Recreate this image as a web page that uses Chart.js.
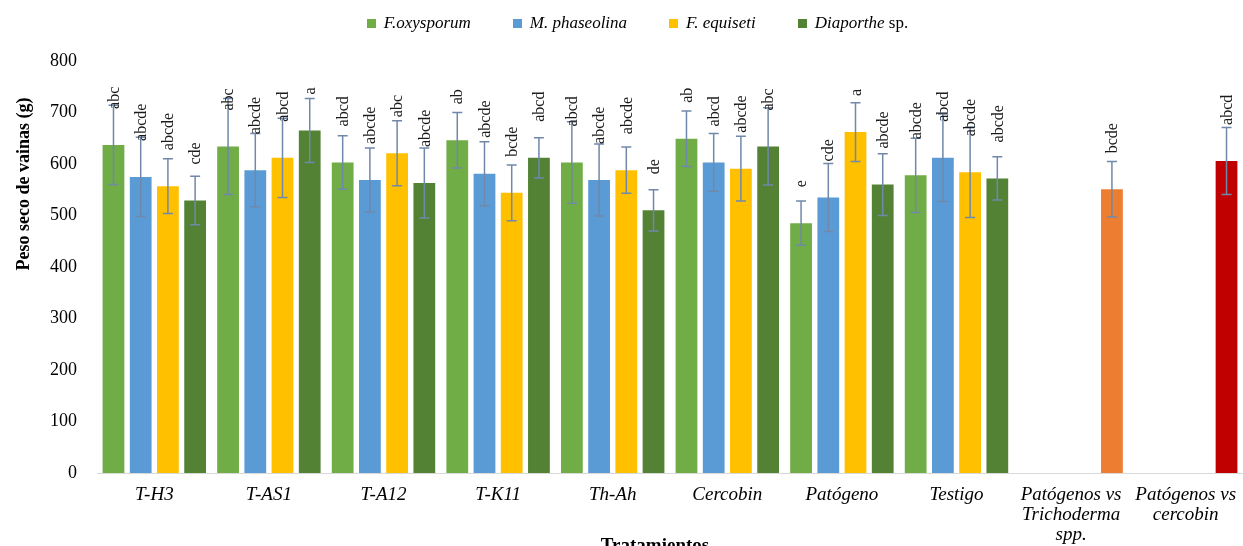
<!DOCTYPE html>
<html lang="es">
<head>
  <meta charset="UTF-8">
  <title>Peso seco de vainas</title>
  <script src="https://cdn.jsdelivr.net/npm/chart.js"></script>
  <style>
    * { box-sizing: border-box; margin: 0; padding: 0; }
    body { background: #ffffff; }
    .wrap { width: 1243px; height: 546px; position: relative; }
    .legend { position: absolute; top: 13px; left: 0; width: 1243px; padding-left: 32px;
              display: flex; justify-content: center; gap: 42px;
              font-family: "Liberation Serif", "Times New Roman", serif; font-size: 17px; color: #000; }
    .legend .item { display: flex; align-items: center; white-space: pre; }
    .legend .box { width: 9px; height: 9px; margin-right: 8px; }
    .legend i { font-style: italic; }
  </style>
</head>
<body>
  <div class="wrap">
    <canvas id="chart" width="1243" height="546"></canvas>
    <div class="legend" id="legend"></div>
  </div>
  <script>
    const categories = [
      'T-H3', 'T-AS1', 'T-A12', 'T-K11', 'Th-Ah', 'Cercobin', 'Patógeno', 'Testigo',
      ['Patógenos vs', 'Trichoderma', 'spp.'], ['Patógenos vs', 'cercobin']
    ];
    const seriesNames = ['F.oxysporum', 'M. phaseolina', 'F. equiseti', 'Diaporthe sp.'];
    // legend text: italic part, then upright part
    const legendParts = [['F.oxysporum', ''], ['M. phaseolina', ''], ['F. equiseti', ''], ['Diaporthe', ' sp.']];

    const foxy   = [637, 634, 603, 646, 603, 649, 485, 578, null, null];
    const mphas  = [575, 588, 569, 581, 569, 603, 535, 612, null, null];
    const fequi  = [557, 612, 621, 544, 588, 591, 662, 584, null, null];
    const diap   = [529, 665, 563, 612, 510, 634, 560, 572, 551, 606];

    const foxyErr  = [77, 93, 52, 54, 79, 54, 43, 72, null, null];
    const mphasErr = [77, 71, 62, 62, 70, 56, 66, 85, null, null];
    const fequiErr = [53, 77, 63, 54, 45, 63, 57, 88, null, null];
    const diapErr  = [47, 62, 68, 39, 40, 75, 60, 42, 54, 65];

    const foxyLetters  = ['abc', 'abc', 'abcd', 'ab', 'abcd', 'ab', 'e', 'abcde', '', ''];
    const mphasLetters = ['abcde', 'abcde', 'abcde', 'abcde', 'abcde', 'abcd', 'cde', 'abcd', '', ''];
    const fequiLetters = ['abcde', 'abcd', 'abc', 'bcde', 'abcde', 'abcde', 'a', 'abcde', '', ''];
    const diapLetters  = ['cde', 'a', 'abcde', 'abcd', 'de', 'abc', 'abcde', 'abcde', 'bcde', 'abcd'];

    const colors = ['#70AD47', '#5B9BD5', '#FFC000', '#548235'];
    // the last series has its two comparison bars recoloured
    const diapPointColors = ['#548235', '#548235', '#548235', '#548235', '#548235',
                             '#548235', '#548235', '#548235', '#ED7D31', '#C00000'];

    const errColor = '#7088AA';
    const serif = '"Liberation Serif", "Times New Roman", serif';

    const values = [foxy, mphas, fequi, diap];
    const errors = [foxyErr, mphasErr, fequiErr, diapErr];
    const letters = [foxyLetters, mphasLetters, fequiLetters, diapLetters];

    const datasets = values.map((v, i) => ({
      label: seriesNames[i],
      data: v,
      errors: errors[i],
      letters: letters[i],
      backgroundColor: i === 3
        ? (ctx => ctx.dataIndex === undefined ? colors[3] : diapPointColors[ctx.dataIndex])
        : colors[i],
      borderWidth: 0,
      categoryPercentage: 0.95,
      barPercentage: 0.8
    }));

    // html legend so "sp." can stay upright
    const legendEl = document.getElementById('legend');
    legendParts.forEach((p, i) => {
      const item = document.createElement('div');
      item.className = 'item';
      item.innerHTML = '<span class="box" style="background:' + colors[i] + '"></span><i>' + p[0] + '</i><span>' + p[1] + '</span>';
      legendEl.appendChild(item);
    });

    // error bars and letter labels
    const errorBars = {
      id: 'errorBars',
      afterDatasetsDraw(chart) {
        const ctx = chart.ctx;
        const y = chart.scales.y;
        chart.data.datasets.forEach((ds, di) => {
          const meta = chart.getDatasetMeta(di);
          meta.data.forEach((bar, i) => {
            const v = ds.data[i];
            if (v === null || v === undefined) return;
            const e = ds.errors[i];
            const x = bar.x;
            const yTop = y.getPixelForValue(v + e);
            const yBot = y.getPixelForValue(v - e);
            ctx.save();
            ctx.strokeStyle = errColor;
            ctx.lineWidth = 1.5;
            ctx.beginPath();
            ctx.moveTo(x, yTop); ctx.lineTo(x, yBot);
            ctx.moveTo(x - 5, yTop); ctx.lineTo(x + 5, yTop);
            ctx.moveTo(x - 5, yBot); ctx.lineTo(x + 5, yBot);
            ctx.stroke();
            // letters, rotated, reading upward
            const lab = ds.letters[i];
            if (lab) {
              ctx.translate(x + 1, bar.y - 36);
              ctx.rotate(-Math.PI / 2);
              ctx.fillStyle = '#1a1a1a';
              ctx.font = '16px ' + serif;
              ctx.textAlign = 'left';
              ctx.textBaseline = 'middle';
              ctx.fillText(lab, 0, 0);
            }
            ctx.restore();
          });
        });
      }
    };

    // axis titles placed like the original figure
    const axisTitles = {
      id: 'axisTitles',
      afterDraw(chart) {
        const ctx = chart.ctx;
        const a = chart.chartArea;
        ctx.save();
        ctx.fillStyle = '#000';
        ctx.textAlign = 'center';
        ctx.textBaseline = 'middle';
        ctx.font = 'bold 19px ' + serif;
        ctx.fillText('Tratamientos', (a.left + a.right) / 2 - 15, a.bottom + 73);
        ctx.font = 'bold 18px ' + serif;
        ctx.translate(24, a.top + 123);
        ctx.rotate(-Math.PI / 2);
        ctx.fillText('Peso seco de vainas (g)', 0, 0);
        ctx.restore();
      }
    };

    new Chart(document.getElementById('chart'), {
      type: 'bar',
      data: { labels: categories, datasets },
      plugins: [errorBars, axisTitles],
      options: {
        responsive: false,
        animation: false,
        layout: { padding: { top: 61, right: 0, bottom: 0, left: 0 } },
        plugins: {
          legend: { display: false },
          tooltip: { enabled: false }
        },
        scales: {
          x: {
            grid: { display: false, drawTicks: false },
            border: { display: true, color: '#D9D9D9', width: 1 },
            ticks: {
              color: '#000',
              padding: 12,
              maxRotation: 0,
              autoSkip: false,
              font: { family: serif, size: 19, style: 'italic', lineHeight: '20px' }
            },
            afterFit(scale) {
              scale.height = 73;
              // plot runs to the right edge like the original
              scale.paddingLeft = 0;
              scale.paddingRight = 0;
            }
          },
          y: {
            min: 0,
            max: 800,
            grid: { display: false, drawTicks: false },
            border: { display: false },
            ticks: {
              stepSize: 100,
              color: '#000',
              padding: 20,
              font: { family: serif, size: 18 }
            },
            afterFit(scale) { scale.width = 97; }
          }
        }
      }
    });
  </script>
</body>
</html>
